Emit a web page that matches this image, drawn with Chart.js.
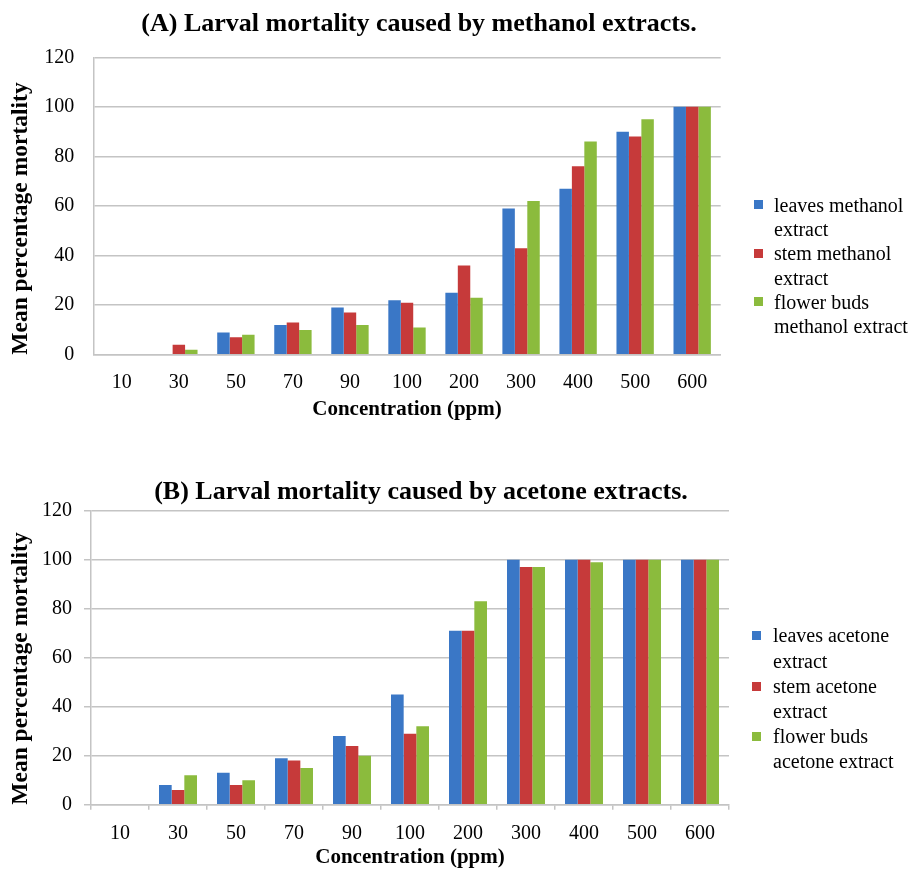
<!DOCTYPE html>
<html><head><meta charset="utf-8">
<script src="https://cdn.jsdelivr.net/npm/chart.js@4/dist/chart.umd.min.js"></script>
<style>
html,body{margin:0;padding:0;background:#fff;}
body{width:917px;height:872px;position:relative;overflow:hidden;font-family:"Liberation Serif","Times New Roman",serif;}
canvas{position:absolute;left:0;}
#cA{top:0;}
#cB{top:436px;}
.legend{position:absolute;font-size:20px;color:#000;}
.legend .item{position:relative;}
.legend .sw{position:absolute;left:0;width:9px;height:9px;}
#legA{left:754px;top:192.9px;line-height:24.2px;}
#legA .item{padding-left:20px;}
#legA .sw{top:7.6px;}
#legB{left:752px;top:623.4px;line-height:25.2px;}
#legB .item{padding-left:21px;}
#legB .sw{top:8px;}
</style>
</head><body>
<canvas id="cA" width="838" height="436"></canvas>
<canvas id="cB" width="842" height="436"></canvas>
<div class="legend" id="legA"></div>
<div class="legend" id="legB"></div>
<script>
// ---- data ----
const concentrations = ['10','30','50','70','90','100','200','300','400','500','600'];
const yTickValues = [0,20,40,60,80,100,120];

const leavesMethanol = [0,0,9,12,19,22,25,59,67,90,100];
const stemMethanol   = [0,4,7,13,17,21,36,43,76,88,100];
const budsMethanol   = [0,2,8,10,12,11,23,62,86,95,100];

const leavesAcetone = [0,8,13,19,28,45,71,100,100,100,100];
const stemAcetone   = [0,6,8,18,24,29,71,97,100,100,100];
const budsAcetone   = [0,12,10,15,20,32,83,97,99,100,100];

const seriesNamesA = ['leaves methanol extract','stem methanol extract','flower buds methanol extract'];
const seriesNamesB = ['leaves acetone extract','stem acetone extract','flower buds acetone extract'];
const legendLinesA = [['leaves methanol','extract'],['stem methanol','extract'],['flower buds','methanol extract']];
const legendLinesB = [['leaves acetone','extract'],['stem acetone','extract'],['flower buds','acetone extract']];

// ---- style ----
const SERIF = '"Liberation Serif","Times New Roman",serif';
const COLORS = ['#3a77c6','#c63a3a','#8bbb3d'];
const GRID = '#c4c4c4';

function buildChart(id, title, values, names, g) {
  return new Chart(document.getElementById(id), {
    type: 'bar',
    data: {
      labels: concentrations,
      datasets: values.map((v, i) => ({label: names[i], data: v, backgroundColor: COLORS[i], borderWidth: 0, yAxisID: 'y'}))
    },
    options: {
      responsive: false, animation: false,
      layout: {padding: 0},
      datasets: {bar: {barPercentage: 1, categoryPercentage: 0.655}},
      plugins: {
        legend: {display: false}, tooltip: {enabled: false},
        title: {display: true, text: title, color: '#000',
          font: {family: SERIF, size: 26, weight: 'bold'},
          padding: {top: g.titleTop, bottom: g.titleBottom}}
      },
      scales: {
        x: {
          grid: g.xTicks ? {display: true, drawOnChartArea: false, drawTicks: true, tickLength: 5, color: GRID, lineWidth: 1.5}
                         : {display: false, tickLength: 8},
          border: {display: true, color: GRID, width: 1.5},
          ticks: {color: '#000', font: {family: SERIF, size: 20}, padding: g.xTickPad, maxRotation: 0, autoSkip: false},
          title: {display: true, text: 'Concentration (ppm)', color: '#000',
            font: {family: SERIF, size: 21, weight: 'bold'}, padding: {top: 0, bottom: g.xTitlePad}},
          afterFit: s => { s.height = g.xHeight; }
        },
        y: {
          min: 0, max: 120,
          afterBuildTicks: s => { s.ticks = yTickValues.map(v => ({value: v})); },
          grid: {color: GRID, lineWidth: 1.5, drawTicks: g.yTickLen > 0, tickLength: g.yTickLen},
          border: {display: true, color: GRID, width: 1.5},
          ticks: {color: '#000', font: {family: SERIF, size: 20}, padding: g.yTickPad},
          title: {display: true, text: 'Mean percentage mortality', color: '#000', align: 'start',
            font: {family: SERIF, size: 23.5, weight: 'bold'}, padding: {top: 6.9, bottom: 0}},
          afterFit: s => { s.width = g.yWidth; }
        },
        // empty right-hand band that keeps room for the legend
        side: {
          type: 'linear', position: 'right', display: true,
          grid: {display: false}, border: {display: false}, ticks: {display: false},
          afterFit: s => { s.width = g.padRight; }
        }
      }
    }
  });
}

buildChart('cA', '(A) Larval mortality caused by methanol extracts.',
  [leavesMethanol, stemMethanol, budsMethanol], seriesNamesA,
  {padRight: 117.3, titleTop: 8.4, titleBottom: 17.7, xHeight: 81.3, xTickPad: 8, xTitlePad: 13.4,
   xTicks: false, yTickLen: 0, yTickPad: 19, yWidth: 93.3});

buildChart('cB', '(B) Larval mortality caused by acetone extracts.',
  [leavesAcetone, stemAcetone, budsAcetone], seriesNamesB,
  {padRight: 113, titleTop: 40.4, titleBottom: 3.1, xHeight: 67.3, xTickPad: 12.3, xTitlePad: 1.4,
   xTicks: true, yTickLen: 7, yTickPad: 12, yWidth: 91});

function buildLegend(id, lines) {
  const el = document.getElementById(id);
  lines.forEach((ls, i) => {
    const item = document.createElement('div');
    item.className = 'item';
    const sw = document.createElement('span');
    sw.className = 'sw'; sw.style.background = COLORS[i];
    item.appendChild(sw);
    ls.forEach(t => { const d = document.createElement('div'); d.textContent = t; item.appendChild(d); });
    el.appendChild(item);
  });
}
buildLegend('legA', legendLinesA);
buildLegend('legB', legendLinesB);
</script>
</body></html>
